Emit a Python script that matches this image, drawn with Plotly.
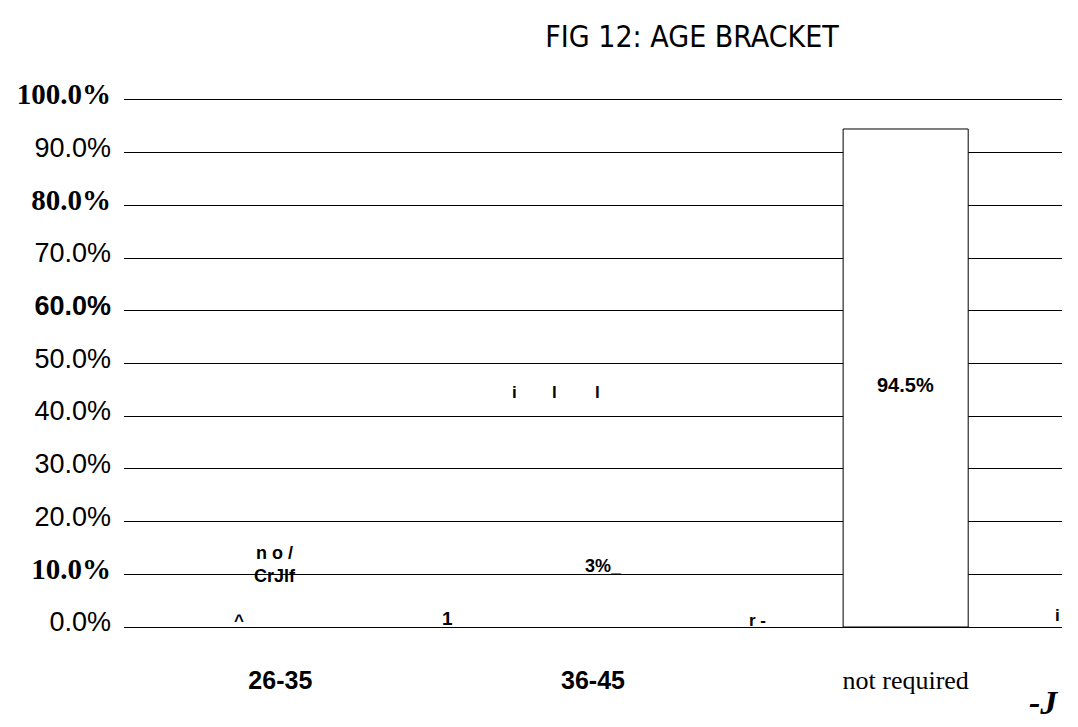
import plotly.graph_objects as go

# ---- data ----
categories = ["26-35", "36-45", "not required"]
values = [2.5, 3.0, 94.5]
value_labels = ["n o /<br>CrJlf", "3%_", "94.5%"]
y_ticks = [0, 10, 20, 30, 40, 50, 60, 70, 80, 90, 100]
y_tick_labels = ["0.0%", "10.0%", "20.0%", "30.0%", "40.0%", "50.0%",
                 "60.0%", "70.0%", "80.0%", "90.0%", "100.0%"]
# tick label style per tick (as scanned: mixed fonts)
y_tick_styles = ["sans", "serifb", "sans", "sans", "sans", "sans",
                 "sansb", "sans", "serifb", "sans", "serifb"]
x_tick_styles = ["sansb", "sansb", "serif"]
# stray scan text: (text, paper x, paper y, style, size)
stray_texts = [
    ("i", 0.4163, 0.445, "sansb", 17),
    ("l", 0.4590, 0.445, "sansb", 17),
    ("l", 0.5048, 0.445, "sansb", 17),
    ("^", 0.1151, -0.009, "sansb", 17),
    ("1", 0.3454, -0.008, "sansb", 19),
    ("r -", 0.6866, -0.009, "sansb", 17),
    ("i", 1.0, 0.0, "sansb", 17),
]

SANS = "Liberation Sans, Arial, sans-serif"
SERIF = "Liberation Serif, Times New Roman, serif"


def styled(text, style, size):
    fam = SERIF if style.startswith("serif") else SANS
    t = f'<span style="font-family:{fam};font-size:{size}px">{text}</span>'
    if style.endswith("b"):
        t = f"<b>{t}</b>"
    return t


fig = go.Figure()
fig.add_trace(go.Bar(
    x=categories,
    y=values,
    width=0.4,
    marker=dict(color="white",
                line=dict(color="black", width=[0, 0, 1])),
    showlegend=False,
    hoverinfo="skip",
))

# data labels
for c, v, lab in zip(categories, values, value_labels):
    if v > 50:
        fig.add_annotation(x=c, y=v / 2, text=f"<b>{lab}</b>", showarrow=False,
                           yshift=-7,
                           font=dict(family=SANS, size=20, color="black"))
    elif "<br>" in lab:
        fig.add_annotation(x=c, y=v, text=f"<b>{lab}</b>", showarrow=False,
                           yanchor="bottom", yshift=26, xshift=-5,
                           font=dict(family=SANS, size=18, color="black"))
    else:
        fig.add_annotation(x=c, y=v, text=f"<b>{lab}</b>", showarrow=False,
                           yanchor="bottom", yshift=33, xshift=10,
                           font=dict(family=SANS, size=18, color="black"))

for txt, px, py, st, sz in stray_texts:
    fig.add_annotation(xref="paper", yref="paper", x=px, y=py,
                       text=styled(txt, st, sz), showarrow=False,
                       font=dict(color="black"))

fig.add_annotation(xref="paper", yref="paper", x=0.998, y=-0.182,
                   text="<b><i>-J</i></b>", showarrow=False,
                   font=dict(family=SERIF, size=34, color="black"))

fig.update_layout(
    width=1078, height=727,
    margin=dict(l=124, r=16, t=100, b=100),
    paper_bgcolor="white", plot_bgcolor="white",
    title=dict(text="FIG 12: AGE BRACKET", x=0.642, xanchor="center",
               y=0.950, yanchor="middle",
               font=dict(family="DejaVu Sans Condensed, Roboto, sans-serif",
                         size=30, color="black")),
    bargap=0.6,
)
fig.update_yaxes(
    range=[0, 100],
    tickvals=y_ticks,
    ticktext=[styled(t, s, 29 if s.startswith("serif") else 27)
              for t, s in zip(y_tick_labels, y_tick_styles)],
    showgrid=True, gridcolor="black", gridwidth=1,
    zeroline=False, showline=False, ticks="",
    ticklabelstandoff=12,
    tickfont=dict(color="black"),
    fixedrange=True,
)
fig.update_xaxes(
    tickvals=categories,
    ticktext=[styled(c, s, 25 if s == "sansb" else 26)
              for c, s in zip(categories, x_tick_styles)],
    showgrid=False, zeroline=False,
    showline=True, mirror=True, linecolor="black", linewidth=1,
    ticks="",
    ticklabelstandoff=47,
    tickfont=dict(color="black"),
    fixedrange=True,
)

fig.write_html("out.html")
